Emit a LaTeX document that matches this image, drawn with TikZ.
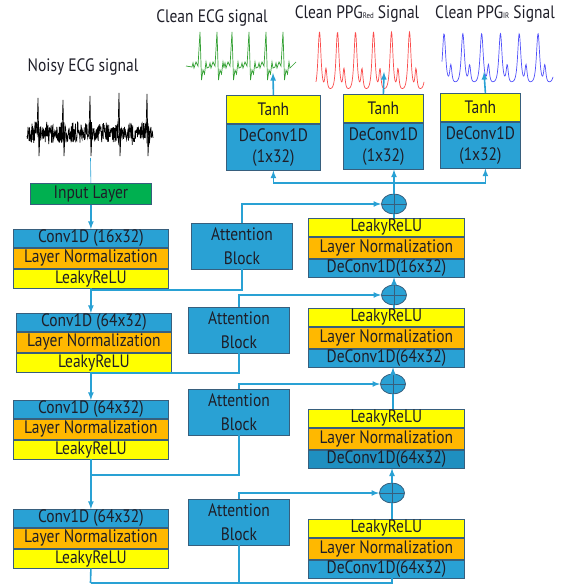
\documentclass[tikz,border=0pt]{standalone}
\usepackage{fontspec}
\setmainfont{PT Sans}[FakeStretch=0.86]
\usetikzlibrary{positioning,shapes.geometric}
\definecolor{convblue}{RGB}{41,161,212}
\definecolor{deconvdark}{RGB}{31,143,192}
\definecolor{normorange}{RGB}{255,184,0}
\definecolor{actyellow}{RGB}{255,255,0}
\definecolor{inputgreen}{RGB}{0,176,80}
\definecolor{edgecol}{RGB}{55,95,125}
\definecolor{wirecol}{RGB}{41,161,212}
\definecolor{ecggreen}{RGB}{50,160,50}
\definecolor{ppgred}{RGB}{250,75,75}
\definecolor{ppgblue}{RGB}{80,80,250}
\definecolor{txtcol}{RGB}{30,30,40}

\tikzset{
  layer/.style={draw=edgecol, line width=0.8pt, minimum width=155pt, inner sep=0pt,
    text=txtcol, font=\fontsize{18}{18}\selectfont},
  conv/.style={layer, fill=convblue, minimum height=18pt},
  norm/.style={layer, fill=normorange, minimum height=20pt},
  act/.style={layer, fill=actyellow, minimum height=19pt},
  attn/.style={layer, fill=convblue, minimum width=101pt, minimum height=46pt,
    align=center, font=\fontsize{18}{24}\selectfont},
  tanhbox/.style={layer, fill=actyellow, minimum width=80pt, minimum height=28pt},
  outconv/.style={layer, fill=convblue, minimum width=80pt, minimum height=46pt,
    align=center, font=\fontsize{18}{21}\selectfont},
  sumnode/.style={ellipse, draw=edgecol, line width=0.8pt, fill=convblue, inner sep=0pt,
    minimum width=25pt, minimum height=20pt,
    path picture={\draw[edgecol, line width=0.8pt]
      (path picture bounding box.north) -- (path picture bounding box.south)
      (path picture bounding box.west) -- (path picture bounding box.east);}},
  wire/.style={draw=wirecol, line width=1.6pt},
  title/.style={text=txtcol, inner sep=0pt, font=\fontsize{18}{18}\selectfont}
}

\begin{document}
\begin{tikzpicture}[x=1pt, y=-1pt, >=latex,
  declare function={pulse(\t,\w)=1/(1+(\t/\w)^2)/(1+(\t/\w)^2);
    ppg(\p)=0.85*(pulse(\p-0.3,0.15)+pulse(\p-1.3,0.15)+pulse(\p+0.7,0.15))
      +0.3*pulse(\p-0.66,0.1);}]
\useasboundingbox (0,0) rectangle (563,585);

% signals
\node[title] (noisylbl) at (83,67) {Noisy ECG signal};
\node[title] (ecglbl) at (212,18) {Clean ECG signal};
\node[title] (redlbl) at (357,14) {Clean PPG{\fontsize{8}{8}\selectfont Red} Signal};
\node[title] (irlbl) at (495,14) {Clean PPG{\fontsize{8}{8}\selectfont IR} Signal};

\pgfmathsetseed{12}
\draw[black, line width=0.7pt] plot[domain=27:153, samples=360]
  (\x, {133+(6+6*abs(sin(13*\x)))*rand});
\foreach \c/\h in {38/98, 63/100, 90/96, 119/93, 147/94}
  \draw[black, line width=0.7pt] (\c-1,133) -- (\c,\h) -- (\c+1,156) -- (\c+2,133);

\draw[ecggreen, line width=0.7pt] (186,66)
  \foreach \c in {200,217,232,249,266,283} {
    -- (\c-8,67) -- (\c-7,63) -- (\c-6,68) -- (\c-4,62) -- (\c-2,66) -- (\c,32)
    -- (\c+1.5,80) -- (\c+3,70) -- (\c+4.5,74) -- (\c+6,62) -- (\c+7,68) } -- (296,62);

\draw[ppgred, line width=0.7pt] plot[domain=316:424, samples=240, smooth]
  (\x, {90-68*ppg(mod(\x-314.1,18)/18)});
\draw[ppgblue, line width=0.7pt] plot[domain=442:553, samples=240, smooth]
  (\x, {83-58*ppg(mod(\x-438.4,18.8)/18.8)});

% output heads
\node[tanhbox, minimum width=94pt, anchor=north west] (t1) at (226,95) {Tanh};
\node[outconv, minimum width=94pt, below=0pt of t1] (o1) {DeConv1D\\(1x32)};
\node[tanhbox, anchor=north west] (t2) at (343,94) {Tanh};
\node[outconv, below=0pt of t2] (o2) {DeConv1D\\(1x32)};
\node[tanhbox, anchor=north west] (t3) at (440,93) {Tanh};
\node[outconv, below=0pt of t3] (o3) {DeConv1D\\(1x32)};

% encoder
\node[layer, fill=inputgreen, minimum width=121pt, minimum height=21pt, anchor=north west]
  (inp) at (30,183) {Input Layer};
\node[conv, anchor=north west] (e1c) at (13,229) {Conv1D (16x32)};
\node[norm, below=0pt of e1c] (e1n) {Layer Normalization};
\node[act, below=0pt of e1n] (e1a) {LeakyReLU};
\node[conv, anchor=north west] (e2c) at (16,313) {Conv1D (64x32)};
\node[norm, below=0pt of e2c] (e2n) {Layer Normalization};
\node[act, below=0pt of e2n] (e2a) {LeakyReLU};
\node[conv, anchor=north west] (e3c) at (13,400) {Conv1D (64x32)};
\node[norm, below=0pt of e3c] (e3n) {Layer Normalization};
\node[act, below=0pt of e3n] (e3a) {LeakyReLU};
\node[conv, anchor=north west] (e4c) at (13,509) {Conv1D (64x32)};
\node[norm, below=0pt of e4c] (e4n) {Layer Normalization};
\node[act, below=0pt of e4n] (e4a) {LeakyReLU};

% attention
\node[attn] (a1) at (242,246) {Attention\\Block};
\node[attn] (a2) at (239,330) {Attention\\Block};
\node[attn] (a3) at (239,412) {Attention\\Block};
\node[attn] (a4) at (239,522) {Attention\\Block};

% decoder
\node[act, minimum width=156pt, minimum height=18pt, anchor=north west] (d1a) at (308,218) {LeakyReLU};
\node[norm, minimum width=156pt, minimum height=21pt, below=0pt of d1a] (d1n) {Layer Normalization};
\node[conv, minimum width=156pt, below=0pt of d1n] (d1d) {DeConv1D(16x32)};
\node[act, minimum width=156pt, minimum height=18pt, anchor=north west] (d2a) at (308,308) {LeakyReLU};
\node[norm, minimum width=156pt, minimum height=21pt, below=0pt of d2a] (d2n) {Layer Normalization};
\node[conv, minimum width=156pt, below=0pt of d2n] (d2d) {DeConv1D(64x32)};
\node[act, minimum width=156pt, minimum height=18pt, anchor=north west] (d3a) at (308,409) {LeakyReLU};
\node[norm, minimum width=156pt, minimum height=21pt, below=0pt of d3a] (d3n) {Layer Normalization};
\node[conv, fill=deconvdark, minimum width=156pt, below=0pt of d3n] (d3d) {DeConv1D(64x32)};
\node[act, minimum width=156pt, minimum height=18pt, anchor=north west] (d4a) at (308,519) {LeakyReLU};
\node[norm, minimum width=156pt, minimum height=21pt, below=0pt of d4a] (d4n) {Layer Normalization};
\node[conv, minimum width=156pt, below=0pt of d4n] (d4d) {DeConv1D(64x32)};

\node[sumnode] (s1) at (394,204) {};
\node[sumnode] (s2) at (394,295) {};
\node[sumnode] (s3) at (393,384) {};
\node[sumnode] (s4) at (392,493) {};

% connectors
\coordinate (noisyend) at (90.5,158);
\coordinate (j1) at (90.5,290);
\coordinate (j2) at (90.5,373);
\coordinate (j3) at (90.5,475);
\coordinate (j4) at (90.5,583);
\coordinate (split) at (394,183);
\coordinate (ecgin) at (273,73);
\coordinate (redin) at (384,72);
\coordinate (irin) at (484,72);

\draw[draw=wirecol, line width=0.6pt] (noisyend) -- (inp.north);
\draw[wire,->] (inp.south) -- (inp.south |- e1c.north);
\draw[wire,->] (inp |- e1a.south) -- (inp |- e2c.north);
\draw[wire,->] (inp |- e2a.south) -- (inp |- e3c.north);
\draw[wire,->] (inp |- e3a.south) -- (inp |- e4c.north);
\draw[wire] (inp |- e4a.south) -- (j4);

\draw[wire] (a1.south) |- (j1);
\draw[wire] (a2.south) |- (j2);
\draw[wire] (a3.south) |- (j3);
\draw[wire] (a4.south) -- (a4.south |- j4);
\draw[wire] (j4) -| (d4d.south -| s4);

\draw[wire,->] (a1.north) |- (s1.west);
\draw[wire,->] (a2.north) |- (s2.west);
\draw[wire,->] (a3.north) |- (s3.west);
\draw[wire,->] (a4.north) |- (s4.west);

\draw[wire] (d4a.north -| s4) -- (s4.south);
\draw[wire,->] (s4.north) -- (s4.north |- d3d.south);
\draw[wire] (d3a.north -| s3) -- (s3.south);
\draw[wire,->] (s3.north) -- (s3.north |- d2d.south);
\draw[wire] (d2a.north -| s2) -- (s2.south);
\draw[wire,->] (s2.north) -- (s2.north |- d1d.south);
\draw[wire] (d1a.north -| s1) -- (s1.south);

\draw[wire,->] (s1.north) -- (s1.north |- o2.south);
\draw[wire,->] (split) -| (o1.south);
\draw[wire,->] (split) -| ([xshift=5pt]o3.south);

\draw[wire,->] (t1.north) -- (ecgin);
\draw[wire,->] (t2.north) -- (redin);
\draw[wire,->] ([xshift=5pt]t3.north) -- (irin);
\end{tikzpicture}
\end{document}
